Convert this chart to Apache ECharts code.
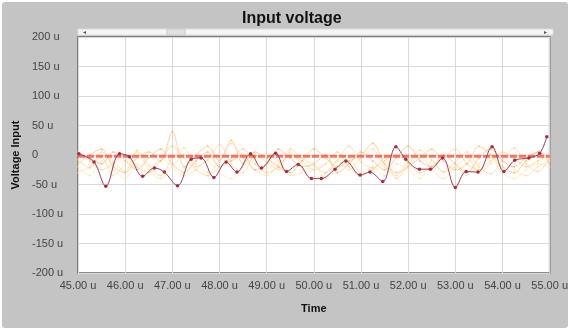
<!DOCTYPE html>
<html><head><meta charset="utf-8">
<script src="https://cdn.jsdelivr.net/npm/echarts@6/dist/echarts.min.js"></script>
<style>html,body{margin:0;padding:0;background:#fff}#c{width:571px;height:331px}</style>
</head><body><div id="c"></div>
<script>
// Main measured trace (time in u, voltage in u)
const mainTime = [45.02,45.34,45.59,45.88,46.09,46.37,46.62,46.83,47.11,47.40,47.61,47.88,48.14,48.37,48.66,48.89,49.19,49.42,49.67,49.95,50.16,50.45,50.68,50.98,51.19,51.46,51.74,51.95,52.24,52.47,52.73,53.00,53.23,53.48,53.78,54.03,54.26,54.56,54.79,54.94];
const mainValues = [2,-12,-53,2,-3,-36,-22,-29,-52,-7,-5,-38,-12,-29,2,-22,3,-28,-16,-40,-40,-24,-10,-34,-29,-45,14,-7,-24,-24,-5,-55,-28,-29,14,-28,-9,-5,3,31];
// Reference level
const refTime = [45,55];
const refValues = [-2,-2];
// Background noise traces
const noiseTime = [45,45.25,45.5,45.75,46,46.25,46.5,46.75,47,47.25,47.5,47.75,48,48.25,48.5,48.75,49,49.25,49.5,49.75,50,50.25,50.5,50.75,51,51.25,51.5,51.75,52,52.25,52.5,52.75,53,53.25,53.5,53.75,54,54.25,54.5,54.75,55];
const noise1 = [5,-10,-25,-15,0,-20,-30,-10,15,-5,-25,-35,-20,-5,10,-15,-30,-20,0,-10,-25,-15,5,-20,-35,-25,-10,0,-15,-30,-20,-5,10,-15,-25,-10,5,-5,-20,-10,0];
const noise2 = [-15,0,10,-20,-30,-5,5,-10,40,-20,0,15,-10,25,-15,5,-5,-20,-30,-10,10,-5,-20,-10,0,20,-15,-30,-20,-5,10,-10,-25,-15,15,0,-20,-30,-10,5,-5];
const noise3 = [-30,-20,-5,-35,-15,5,-25,-40,-20,0,-15,-30,-10,20,-5,-25,-35,-15,5,-20,-40,-30,-10,-25,-5,10,-20,-35,-10,0,-25,-40,-20,-5,-30,-15,0,-25,-35,-20,-10];
const noise4 = [0,-5,-15,5,-10,-25,-5,10,-15,-30,-10,5,-20,-10,0,-25,-15,10,-5,-20,-15,0,-30,-15,5,-10,-25,-5,15,-10,-20,0,-15,-30,-5,10,-10,-20,-5,5,-15];
const noise5 = [-20,-35,-10,-25,-40,-15,-30,-5,-20,-35,-25,-10,-30,-40,-20,-5,-25,-10,-35,-30,-15,-40,-25,-5,-30,-20,-35,-15,-25,-40,-10,-30,-20,-35,-15,-5,-30,-40,-25,-15,-20];
const noise6 = [-8,-22,5,-12,-28,8,-18,-35,-5,12,-20,-8,18,-15,-30,-2,-12,-25,10,-5,-18,-30,-8,15,-12,-22,-5,-40,-18,8,-8,-28,-12,5,-20,-32,-8,12,-15,-28,-5];
const noiseSets = [noise1,noise2,noise3,noise4,noise5,noise6];
const noiseColors = ['#ffc870','#ffb45c','#ffd890','#f9a868','#ffdf9a','#ffcf80'];
// Axis ticks
const xMin = 45, xMax = 55, xStep = 1;
const yMin = -200, yMax = 200, yStep = 50;

const pair = (xs, ys) => xs.map((x, i) => [x, ys[i]]);
const series = [];
noiseSets.forEach((arr, k) => {
  series.push({type:'line', data: pair(noiseTime, arr), symbol:'circle', symbolSize:2, showSymbol:true, smooth:0.3,
    lineStyle:{color:noiseColors[k], width:1, opacity:0.6}, itemStyle:{color:noiseColors[k], opacity:0.6},
    silent:true, animation:false, z:2});
});
series.push({type:'line', data: pair(refTime, refValues), symbol:'none',
  lineStyle:{color:'#ff5a48', width:3, type:[7,2], opacity:0.85}, animation:false, z:3});
series.push({type:'line', data: pair(mainTime, mainValues), symbol:'circle', symbolSize:3.5, smooth:0.35,
  lineStyle:{color:'#9c3a55', width:1}, itemStyle:{color:'#b02840'}, animation:false, z:4});

const chart = echarts.init(document.getElementById('c'), null, {renderer:'canvas'});
chart.setOption({
  backgroundColor:'#ffffff',
  title:{text:'Input voltage', left:237, top:6, textStyle:{fontFamily:'Liberation Sans, Arial', fontSize:16, fontWeight:'bold', color:'#111'}},
  grid:{left:78, right:18, top:37, bottom:58, show:true, backgroundColor:'#fff', borderColor:'#666', borderWidth:1.5},
  graphic:[
    {type:'rect', z:-10, shape:{x:2, y:2, width:566, height:326, r:3}, style:{fill:'#c4c4c4'}},
    {type:'rect', z:10, shape:{x:78, y:29, width:475, height:6}, style:{fill:'#f5f5f5', stroke:'#dcdcdc', lineWidth:1}},
    {type:'rect', z:11, shape:{x:167, y:29, width:18, height:6}, style:{fill:'#e2e2e2', stroke:'#c8c8c8', lineWidth:1}},
    {type:'text', z:11, style:{x:83, y:32, text:'◂', fontSize:6, fill:'#555', verticalAlign:'middle'}},
    {type:'text', z:11, style:{x:544, y:32, text:'▸', fontSize:6, fill:'#555', verticalAlign:'middle'}}
  ],
  xAxis:{type:'value', min:xMin, max:xMax, interval:xStep,
    name:'Time', nameLocation:'middle', nameGap:30,
    nameTextStyle:{fontFamily:'Liberation Sans, Arial', fontSize:11, fontWeight:'bold', color:'#111'},
    axisLine:{show:false}, axisTick:{show:false},
    axisLabel:{formatter:v => v.toFixed(2)+' u', fontFamily:'Liberation Sans, Arial', fontSize:11, color:'#444', margin:7},
    splitLine:{show:true, lineStyle:{color:'#d8d8d8', width:1}}},
  yAxis:{type:'value', min:yMin, max:yMax, interval:yStep,
    name:'Voltage Input', nameLocation:'middle', nameGap:56,
    nameTextStyle:{fontFamily:'Liberation Sans, Arial', fontSize:11, fontWeight:'bold', color:'#111'},
    axisLine:{show:false}, axisTick:{show:false},
    axisLabel:{formatter:v => v === 0 ? '0' : v+' u', align:'left', margin:46, fontFamily:'Liberation Sans, Arial', fontSize:11, color:'#444'},
    splitLine:{show:true, lineStyle:{color:'#d8d8d8', width:1}}},
  series
});
</script></body></html>
